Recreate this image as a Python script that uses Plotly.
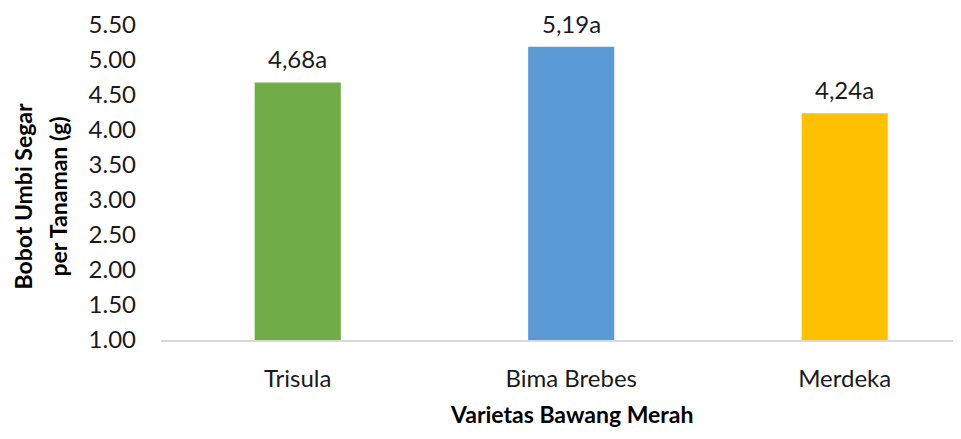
import plotly.graph_objects as go

# Data
varietas = ["Trisula", "Bima Brebes", "Merdeka"]
bobot = [4.68, 5.19, 4.24]
label_teks = ["4,68a", "5,19a", "4,24a"]
warna = ["#70AD47", "#5B9BD5", "#FFC000"]
y_ticks = [1.0, 1.5, 2.0, 2.5, 3.0, 3.5, 4.0, 4.5, 5.0, 5.5]

FONT = "Lato"
TXT = "#1a1a1a"

fig = go.Figure()
fig.add_trace(go.Bar(
    x=varietas, y=bobot, base=0,
    marker=dict(color=warna, line=dict(width=0)),
    width=0.315, showlegend=False,
))

# value labels above bars
for v, val, t in zip(varietas, bobot, label_teks):
    fig.add_annotation(x=v, y=val, text=t, showarrow=False,
                       yanchor="bottom", yshift=7,
                       font=dict(family=FONT, size=24, color=TXT))

# page body has an 8px margin, so the figure is sized to fit the window
fig.update_layout(
    width=945, height=423,
    margin=dict(l=153, r=0, t=17, b=91),
    plot_bgcolor="white", paper_bgcolor="white",
    font=dict(family=FONT, size=24, color=TXT),
)
fig.update_xaxes(
    range=[-0.5, 2.396], showline=True, linecolor="#D9D9D9", linewidth=2,
    showgrid=False, ticks="", ticklabelstandoff=16,
)
fig.update_yaxes(
    range=[1, 5.5], tickvals=y_ticks, tickformat=".2f",
    showgrid=False, zeroline=False, showline=False, ticklabelstandoff=24,
)

# axis titles
ytitle = ["<b>Bobot Umbi Segar</b>", "<b>per Tanaman (g)</b>"]
for line, dx in zip(ytitle, [-139, -104]):
    fig.add_annotation(x=0, y=0.5, xref="paper", yref="paper", text=line,
                       textangle=-90, showarrow=False, xanchor="center", yanchor="middle",
                       xshift=dx, yshift=-14,
                       font=dict(family=FONT, size=23, color="#000000"))
fig.add_annotation(x=0.518, y=0, xref="paper", yref="paper",
                   text="<b>Varietas Bawang Merah</b>", showarrow=False,
                   xanchor="center", yanchor="bottom", yshift=-90,
                   font=dict(family=FONT, size=23, color="#000000"))

fig.write_html("out.html")
